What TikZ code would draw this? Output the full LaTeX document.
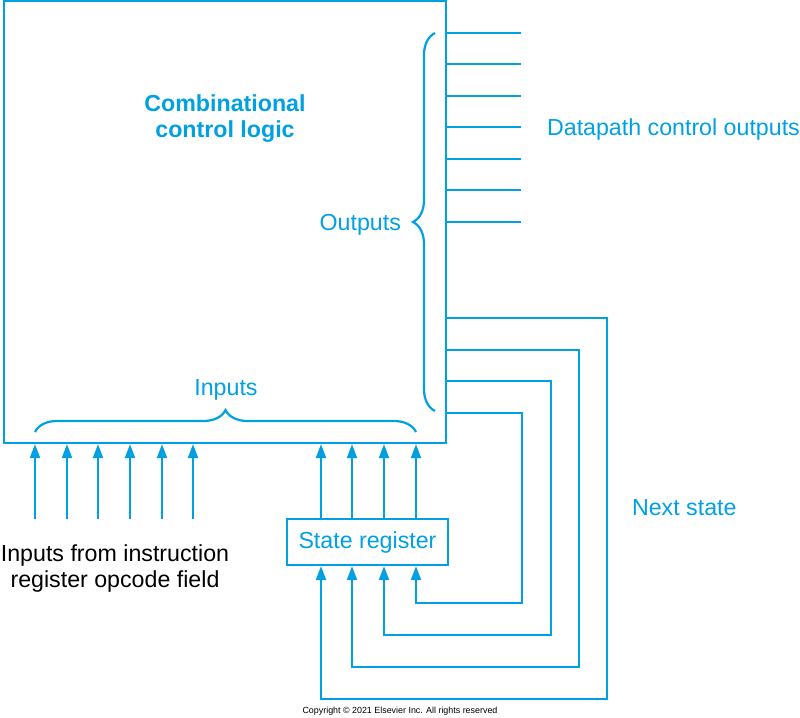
\documentclass[tikz,border=0pt]{standalone}
\usepackage{fontspec}
\setmainfont{Liberation Sans}
\usetikzlibrary{arrows.meta,decorations.pathreplacing}
\definecolor{ctlblue}{RGB}{0,160,227}

\begin{document}
\begin{tikzpicture}[x=0.5pt, y=-0.5pt, line width=1.1pt,
	wire/.style={draw=ctlblue},
	arr/.style={draw=ctlblue, -{Triangle[length=7pt,width=5pt]}},
	lbl/.style={text=ctlblue, inner sep=0pt, font=\fontsize{11.6}{13}\selectfont},
	brc/.style={draw=ctlblue, decorate, decoration={brace, amplitude=11pt}}]
	\useasboundingbox (0,0) rectangle (800,718);

	\node[draw=ctlblue, minimum width=221pt, minimum height=221pt, inner sep=0pt] (ccl) at (225,222) {};
	\node[lbl, font=\fontsize{11.6}{13}\selectfont\bfseries, align=center] (ccltext) at (225,119) {Combinational\\control logic};

	\node[lbl, draw=ctlblue, minimum width=80.5pt, minimum height=23pt] (sreg) at (367.5,542) {State register};

	\coordinate (opc) at (0,519);
	\coordinate (outend) at (521,0);

	\foreach \x in {35,67,98,130,162,193}
		\draw[arr] (\x,0 |- opc) -- (\x,0 |- ccl.south);
	\foreach \x in {321,352,384,416}
		\draw[arr] (\x,0 |- sreg.north) -- (\x,0 |- ccl.south);

	\foreach \y in {33,64,96,127,159,190,222}
		\draw[wire] (ccl.east |- 0,\y) -- (outend |- 0,\y);

	\foreach \yt/\xr/\yb/\xl in {318/607/699/321, 350/579/667/352, 381/551/635/384, 413/522/603/416}
		\draw[arr] (ccl.east |- 0,\yt) -| (\xr,\yb) -| (\xl,0 |- sreg.south);

	\draw[brc] (435,411) -- (435,33);
	\draw[brc] (35,432) -- (416,432);

	\node[lbl, anchor=base east] (outlbl) at (402,230) {Outputs};
	\node[lbl, anchor=base] (inlbl) at (226,395) {Inputs};
	\node[lbl, anchor=base west] (dpout) at (546,135) {Datapath control outputs};
	\node[lbl, anchor=base west] (nxt) at (631,515) {Next state};
	\node[lbl, text=black, align=center] (opcfield) at (115,568.5) {Inputs from instruction\\register opcode field};
	\node[inner sep=0pt, anchor=base, font=\fontsize{4.45}{5}\selectfont] (copy) at (400,713) {Copyright \copyright{} 2021 Elsevier Inc. All rights reserved};

\end{tikzpicture}
\end{document}
